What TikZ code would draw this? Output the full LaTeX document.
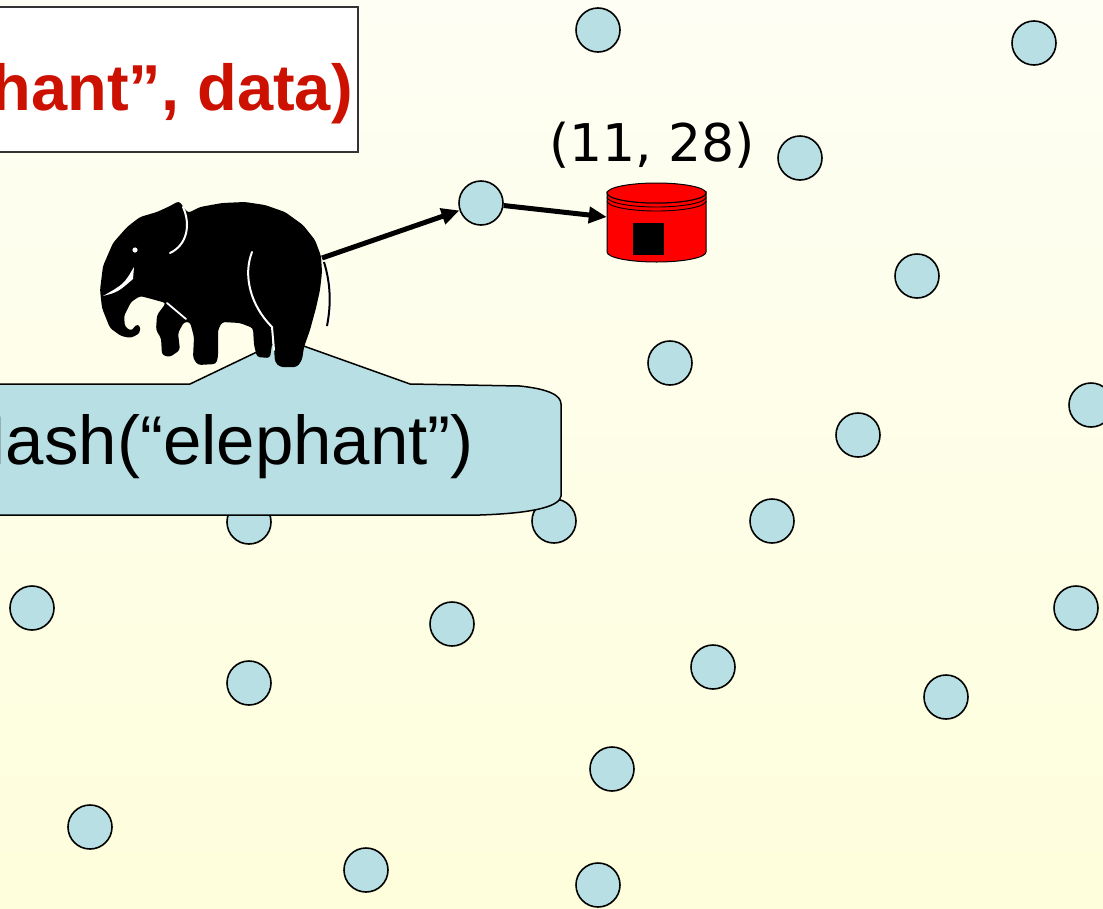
\documentclass[tikz,border=0pt]{standalone}
\usepackage{fontspec}
\setmainfont{Liberation Sans}
\newfontfamily\widesans{DejaVu Sans}
\usetikzlibrary{arrows.meta}
\definecolor{peerblue}{RGB}{184,223,227}
\definecolor{titlered}{RGB}{204,17,0}
\definecolor{bgtop}{RGB}{254,254,244}
\definecolor{bgbot}{RGB}{254,254,220}
\begin{document}
\begin{tikzpicture}[x=1pt,y=-1pt,
  peer/.style={circle,draw=black,line width=1.6pt,fill=peerblue,minimum size=44pt,inner sep=0pt},
  conn/.style={line width=5pt,-{Triangle[length=18pt,width=16pt]}},
  detail/.style={white,line width=2pt,line cap=round}]
% background
\shade[top color=bgtop,bottom color=bgbot] (0,0) rectangle (1103,908);
\useasboundingbox (0,0) rectangle (1103,908);

% peers of the overlay
\node[peer] (p1)  at (598,30)  {};
\node[peer] (p2)  at (1034,43) {};
\node[peer] (p3)  at (800,158) {};
\node[peer] (p4)  at (481,203) {};
\node[peer] (p5)  at (917,276) {};
\node[peer] (p6)  at (670,363) {};
\node[peer] (p7)  at (1091,405) {};
\node[peer] (p8)  at (858,435) {};
\node[peer] (p9)  at (249,522) {};
\node[peer] (p10) at (554,521) {};
\node[peer] (p11) at (772,521) {};
\node[peer] (p12) at (32,608)  {};
\node[peer] (p13) at (452,624) {};
\node[peer] (p14) at (1076,608) {};
\node[peer] (p15) at (713,667) {};
\node[peer] (p16) at (249,683) {};
\node[peer] (p17) at (946,697) {};
\node[peer] (p18) at (612,769) {};
\node[peer] (p19) at (90,827)  {};
\node[peer] (p20) at (366,870) {};
\node[peer] (p21) at (598,885) {};

% put request box
\draw[fill=white,draw=black!80,line width=1.6pt] (-10,7) rectangle (358,152);
\node[anchor=base east,inner sep=0pt,text=titlered,font=\bfseries\fontsize{65}{65}\selectfont] (put) at (353,110) {hant”, data)};

% callout under the elephant
\draw[fill=peerblue,line width=1.5pt,line join=round]
  (-10,384) -- (190,384) -- (284,339) -- (410,384) -- (520,386)
  .. controls (548,389) and (561,395) .. (561,404) -- (561,496)
  .. controls (560,505) and (540,513) .. (480,515) -- (-10,515) -- cycle;
\node[anchor=base east,inner sep=0pt,font=\fontsize{69}{69}\selectfont] (hash) at (474,464) {Hash(“elephant”)};

% storage cylinder
\node[inner sep=0pt,minimum width=99pt,minimum height=79pt] (store) at (656.5,222.5) {};
\path[fill=red,draw=black,line width=1pt]
  (607,193) -- (607,252) arc[start angle=180,end angle=0,x radius=49.5,y radius=10]
  -- (706,193) arc[start angle=0,end angle=180,x radius=49.5,y radius=10] -- cycle;
\draw[fill=red,line width=1pt] (656.5,193) ellipse [x radius=49.5,y radius=10];
\draw[line width=0.9pt] (607,197) arc[start angle=180,end angle=0,x radius=49.5,y radius=10];
\draw[line width=0.9pt] (607,201) arc[start angle=180,end angle=0,x radius=49.5,y radius=10];
\fill[black] (633,223) rectangle (664,255);
\node[anchor=base,inner sep=0pt,font=\widesans\fontsize{52}{52}\selectfont] (coords) at (652,161) {(11, 28)};

% elephant silhouette
\fill[black,rounded corners=3pt]
  (179,201) -- (188,213) -- (200,207) -- (222,203) -- (245,202) -- (265,205)
  -- (285,212) -- (303,225) -- (315,240) -- (321,256) -- (322,272) -- (320,290)
  -- (316,308) -- (310,330) -- (304,347) -- (302,360) -- (297,367) -- (280,367)
  -- (275,362) -- (274,348) -- (273,338) -- (270,358) -- (257,357) -- (254,345)
  -- (253,328) -- (240,323) -- (222,322) -- (218,330) -- (218,357) -- (216,364)
  -- (198,365) -- (193,358) -- (194,337) -- (190,322) -- (184,322) -- (178,333)
  -- (180,350) -- (170,357) -- (162,355) -- (161,338) -- (156,330) -- (157,315)
  -- (166,303) -- (148,298) -- (140,296) -- (131,302) -- (124,316) -- (125,327)
  -- (132,331) -- (135,325) -- (140,325) -- (140,333) -- (131,338) -- (121,336)
  -- (110,328) -- (102,308) -- (100,290) -- (103,266) -- (113,243) -- (127,227)
  -- (140,217) -- (157,212) -- (170,206) -- cycle;
% ear, leg and tusk highlights
\draw[detail] (183,207) .. controls (191,225) and (187,245) .. (170,253);
\draw[detail] (252,252) .. controls (243,275) and (250,305) .. (272,327) -- (274,350);
\draw[detail,line width=1.8pt] (167,303) -- (186,319);
\fill[white] (135,250) circle [radius=2.6];
\fill[white] (134,267) .. controls (124,284) .. (103,296) .. controls (118,292) .. (133,279) -- cycle;
% tail
\draw[white,line width=4.5pt] (324,262) .. controls (331,285) and (331,305) .. (327,326);
\draw[black,line width=2pt] (324,262) .. controls (331,285) and (331,305) .. (327,326);
\coordinate (rump) at (322,258);

% routing arrows
\draw[conn] (rump) -- (p4);
\draw[conn] (p4) -- (store);
\end{tikzpicture}
\end{document}
